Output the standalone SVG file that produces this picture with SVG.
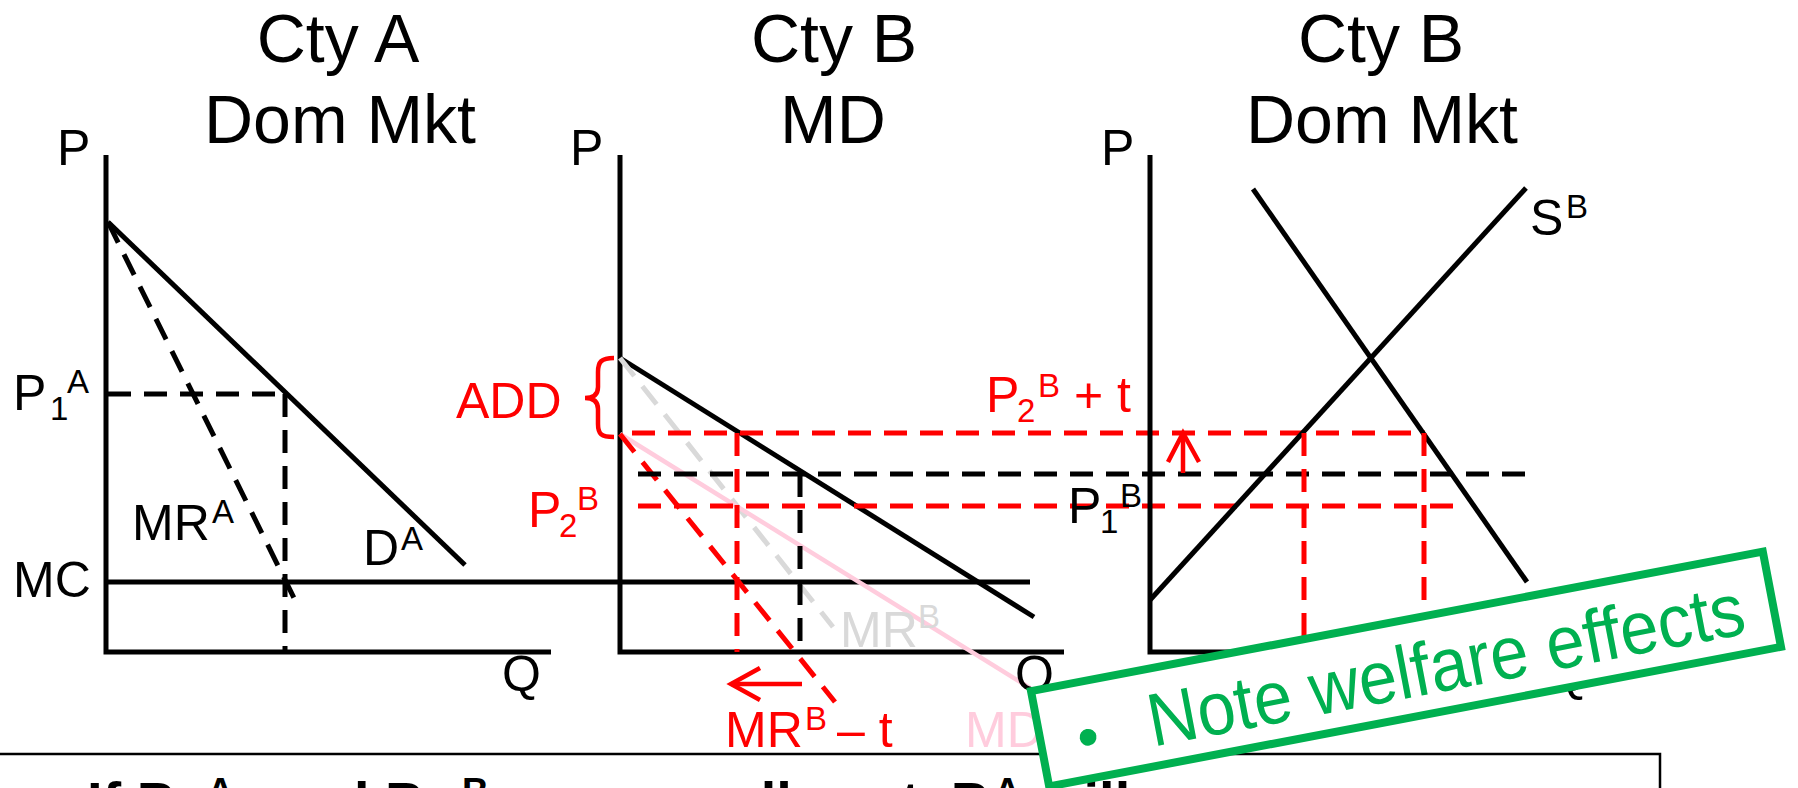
<svg xmlns="http://www.w3.org/2000/svg" width="1798" height="788" viewBox="0 0 1798 788">
<style>
text{font-family:"Liberation Sans",Arial,sans-serif}
.t{font-size:68px;text-anchor:middle}
.l{font-size:50px}
.s{font-size:33px}
.sol{stroke:#000;stroke-width:5;fill:none}
.dk{stroke:#000;stroke-width:5;stroke-dasharray:23 13;fill:none}
.dr{stroke:#f00;stroke-width:5;stroke-dasharray:23 13;fill:none}
.dg{stroke:#d9d9d9;stroke-width:5;stroke-dasharray:23 13;fill:none}
.ar{stroke:#f00;stroke-width:4.5;fill:none}
.red{fill:#f00}
.bt{font-size:56px;font-weight:bold}
.bs{font-size:37px;font-weight:bold}
</style>
<rect width="1798" height="788" fill="#fff"/>

<g id="titles">
<text class="t" x="338" y="62">Cty A</text>
<text class="t" x="340" y="143">Dom Mkt</text>
<text class="t" x="834" y="62">Cty B</text>
<text class="t" x="833" y="143">MD</text>
<text class="t" x="1381" y="62">Cty B</text>
<text class="t" x="1382" y="143">Dom Mkt</text>
</g>

<g id="connectors">
<!-- Panel A -->
<polyline class="sol" points="106,155 106,652 551,652"/>
<line class="sol" x1="108" y1="222" x2="465" y2="565"/>
<line class="dk" x1="108" y1="222" x2="295" y2="600"/>
<line class="dk" x1="108" y1="394" x2="285" y2="394"/>
<line class="dk" x1="285" y1="394" x2="285" y2="652"/>
<line class="sol" x1="106" y1="582" x2="1030" y2="582"/>
<!-- Panel B -->
<polyline class="sol" points="620,155 620,652 1064,652"/>
<line class="sol" x1="620" y1="358" x2="1034" y2="617"/>
<line class="dg" x1="620" y1="358" x2="833" y2="627"/>
<line stroke="#ffccdd" stroke-width="4.5" x1="620" y1="434" x2="1030" y2="688"/>
<line class="dr" x1="620" y1="434" x2="835" y2="702"/>
<line class="dr" x1="622" y1="433" x2="1425" y2="433" stroke-dashoffset="-10"/>
<line class="dk" x1="638" y1="474" x2="1537" y2="474"/>
<line class="dr" x1="638" y1="506" x2="1458" y2="506"/>
<line class="dr" x1="737" y1="433" x2="737" y2="652"/>
<line class="dk" x1="800" y1="474" x2="800" y2="652"/>
<path class="ar" d="M614,358 C601,358 598,362 598,372 L598,387 C598,394 594,398 585,398 C594,398 598,402 598,409 L598,424 C598,434 601,437 614,437"/>
<line class="ar" x1="802" y1="684" x2="731" y2="684"/>
<polyline class="ar" points="760,668 731,684 760,700"/>
<!-- Panel C -->
<polyline class="sol" points="1150,155 1150,652 1597,652"/>
<line class="sol" x1="1150" y1="600" x2="1526" y2="188"/>
<line class="sol" x1="1253" y1="189" x2="1527" y2="582"/>
<line class="dr" x1="1304" y1="433" x2="1304" y2="652"/>
<line class="dr" x1="1424" y1="433" x2="1424" y2="652"/>
<line class="ar" x1="1183" y1="473" x2="1183" y2="434"/>
<polyline class="ar" points="1168,462 1183,433 1199,462"/>
</g>

<g id="labelsA">
<text class="l" x="57" y="165">P</text>
<text class="l" x="13" y="410">P<tspan class="s" x="50" y="420">1</tspan><tspan class="s" x="67" y="393">A</tspan></text>
<text class="l" x="132" y="540">MR<tspan class="s" x="212" y="523">A</tspan></text>
<text class="l" x="363" y="565">D<tspan class="s" x="401" y="550">A</tspan></text>
<text class="l" x="13" y="597">MC</text>
<text class="l" x="502" y="691">Q</text>
</g>

<g id="labelsB">
<text class="l" x="570" y="165">P</text>
<text class="l red" x="456" y="418">ADD</text>
<text class="l red" x="528" y="527">P<tspan class="s" x="559" y="537">2</tspan><tspan class="s" x="577" y="510">B</tspan></text>
<text class="l" x="840" y="647" fill="#d9d9d9">MR<tspan class="s" x="918" y="628">B</tspan></text>
<text class="l" x="1015" y="691">Q</text>
<text class="l red" x="725" y="747">MR<tspan class="s" x="805" y="730">B</tspan><tspan x="837" y="747">– t</tspan></text>
<text class="l" x="965" y="747" fill="#ffccdd">MD</text>
<text class="l red" x="986" y="412">P<tspan class="s" x="1017" y="422">2</tspan><tspan class="s" x="1038" y="397">B</tspan><tspan x="1074" y="412">+ t</tspan></text>
<text class="l" x="1068" y="523">P<tspan class="s" x="1100" y="533">1</tspan><tspan class="s" x="1120" y="507">B</tspan></text>
</g>

<g id="labelsC">
<text class="l" x="1101" y="165">P</text>
<text class="l" x="1530" y="235">S<tspan class="s" x="1566" y="218">B</tspan></text>
<text class="l" x="1550" y="691">Q</text>
</g>

<g id="bottomBox">
<rect x="-5" y="754" width="1665" height="80" fill="#fff" stroke="#000" stroke-width="2.5"/>
<text class="bt" x="87" y="821">If P<tspan class="bs" x="178" y="831">1</tspan><tspan class="bs" x="207" y="804">A</tspan><tspan x="270" y="821">and P</tspan><tspan class="bs" x="434" y="831">2</tspan><tspan class="bs" x="462" y="804">B</tspan><tspan x="490" y="821">are normally set, P</tspan><tspan class="bs" x="957" y="831">1</tspan><tspan class="bs" x="994" y="804">A</tspan><tspan x="1040" y="821">will</tspan></text>
</g>

<g id="note" transform="translate(1406,669) rotate(-10.8)">
<rect x="-372.5" y="-48.5" width="745" height="97" fill="#fff" stroke="#00b050" stroke-width="8"/>
<text x="-325" y="28" font-size="62" fill="#00b050" text-anchor="middle">•</text>
<text x="-263" y="29" font-size="75" fill="#00b050" textLength="606" lengthAdjust="spacingAndGlyphs">Note welfare effects</text>
</g>
</svg>
